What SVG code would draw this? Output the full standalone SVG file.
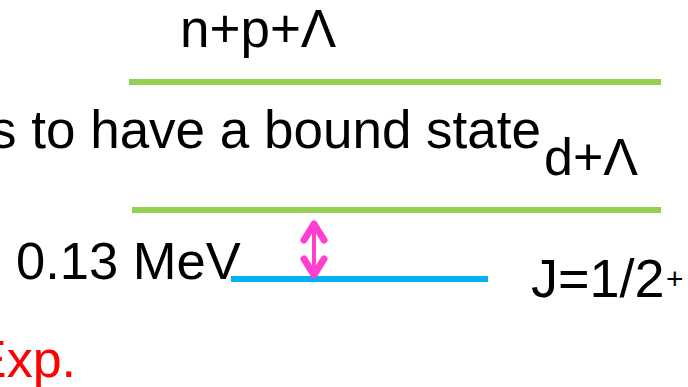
<svg xmlns="http://www.w3.org/2000/svg" width="688" height="387" viewBox="0 0 688 387">
<style>
text{font-family:"Liberation Sans",Arial,sans-serif;font-size:52px;fill:#000}
.lvl{stroke-width:6;fill:none}
.g{stroke:#92D050}
.b{stroke:#00B0F0}
.arr{stroke:#FF3FCF;fill:none;stroke-linecap:round;stroke-linejoin:round}
</style>
<rect width="688" height="387" fill="#fff"/>
<g id="level-npL">
<line class="lvl g" x1="129" y1="82" x2="661" y2="82"/>
<text x="180" y="47" style="font-size:53px">n+p+Λ</text>
</g>
<g id="level-dL">
<line class="lvl g" x1="132" y1="210" x2="661" y2="210"/>
<text x="544" y="175">d+Λ</text>
</g>
<g id="level-bound">
<line class="lvl b" x1="231" y1="279" x2="488" y2="279"/>
<text x="531" y="297" style="font-size:54px">J=1/2</text>
<text x="666" y="289" style="font-size:30px">+</text>
</g>
<g id="label-energy">
<text x="16" y="279" style="font-size:52.5px">0.13 MeV</text>
</g>
<g id="label-note">
<text x="-10" y="148" style="font-size:53px">s to have a bound state</text>
</g>
<g id="label-exp">
<text x="-28" y="377" style="fill:#FF0000">Exp.</text>
</g>
<g id="connectors">
<line class="arr" x1="314" y1="226" x2="314" y2="272" stroke-width="4"/>
<polyline class="arr" points="304,240 314,224 324,240" stroke-width="7"/>
<polyline class="arr" points="304,259 314,275 324,259" stroke-width="7"/>
</g>
</svg>
